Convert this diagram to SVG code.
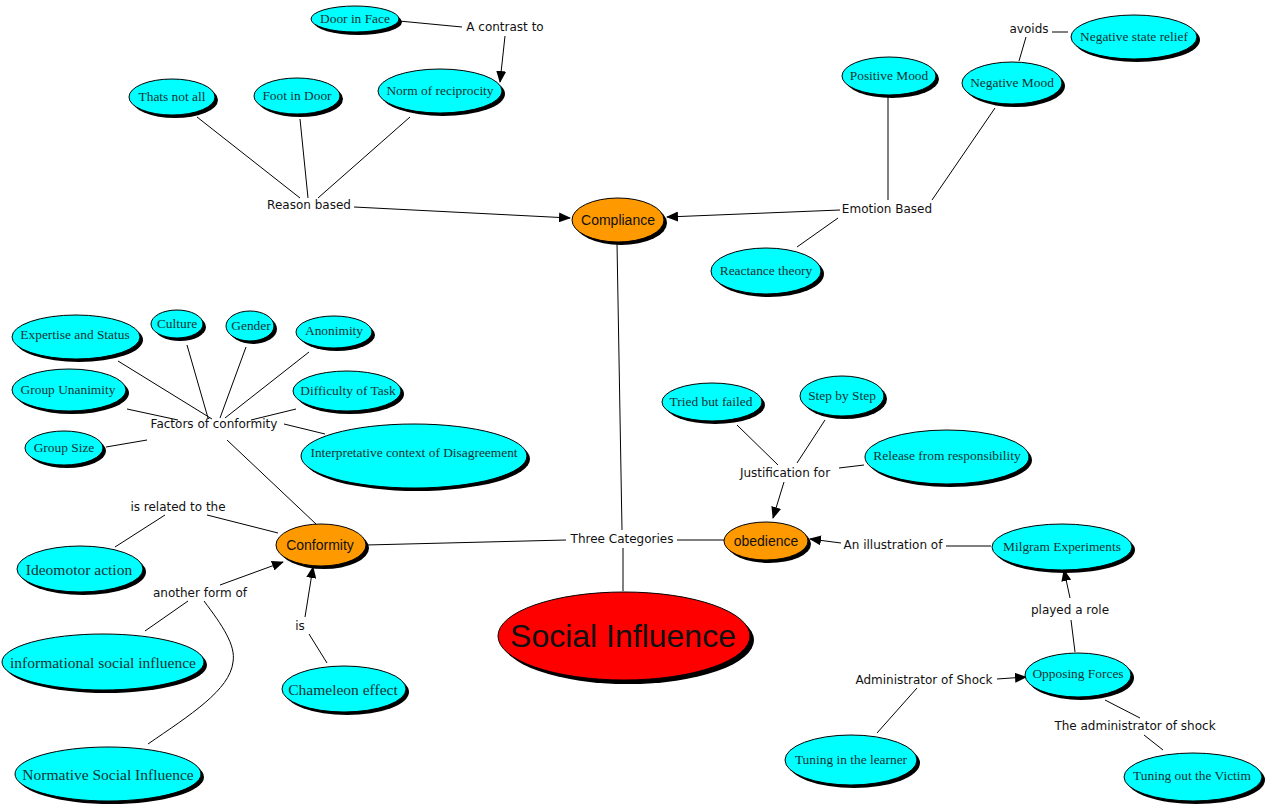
<svg xmlns="http://www.w3.org/2000/svg" width="1265" height="810" viewBox="0 0 1265 810">
<style>
.sh{fill:#000}
.c{fill:#00FFFF;stroke:#000;stroke-width:1}
.o{fill:#FF9900;stroke:#000;stroke-width:1}
.r{fill:#FF0000;stroke:#000;stroke-width:1}
.nt{font-family:"Liberation Serif","Times New Roman",serif;font-size:13.4px;fill:#113333;text-anchor:middle}
.nb{font-family:"Liberation Serif","Times New Roman",serif;font-size:15.5px;fill:#113333;text-anchor:middle}
.ot{font-family:"Liberation Sans",Arial,sans-serif;font-size:14px;fill:#111;text-anchor:middle}
.lb{font-family:"DejaVu Sans",Verdana,sans-serif;font-size:12px;fill:#111;text-anchor:middle}
.ln{stroke:#000;stroke-width:1;fill:none}
.ar{stroke:#000;stroke-width:1;fill:none;marker-end:url(#ah)}
</style>
<defs>
<marker id="ah" markerUnits="userSpaceOnUse" markerWidth="12" markerHeight="10" refX="11" refY="5" orient="auto">
<path d="M0,0 L12,5 L0,10 Z" fill="#000"/>
</marker>
</defs>
<rect width="1265" height="810" fill="#fff"/>
<g id="connectors">
<line class="ln" x1="399" y1="21" x2="462" y2="27"/>
<line class="ar" x1="505" y1="36" x2="500" y2="82"/>
<line class="ln" x1="197" y1="117" x2="300" y2="198"/>
<line class="ln" x1="300" y1="119" x2="308" y2="198"/>
<line class="ln" x1="410" y1="117" x2="318" y2="198"/>
<line class="ar" x1="354" y1="207" x2="570" y2="218"/>
<line class="ar" x1="840" y1="210" x2="667" y2="217"/>
<line class="ln" x1="888" y1="96" x2="888" y2="200"/>
<line class="ln" x1="995" y1="108" x2="932" y2="200"/>
<line class="ln" x1="838" y1="218" x2="797" y2="247"/>
<line class="ln" x1="1052" y1="32" x2="1068" y2="32"/>
<line class="ln" x1="1019" y1="61" x2="1026" y2="37"/>
<line class="ln" x1="617" y1="243" x2="622" y2="530"/>
<line class="ln" x1="623" y1="548" x2="623" y2="591"/>
<line class="ln" x1="366" y1="545" x2="566" y2="540"/>
<line class="ln" x1="677" y1="540" x2="724" y2="540"/>
<line class="ln" x1="118" y1="361" x2="212" y2="419"/>
<line class="ln" x1="187" y1="345" x2="208" y2="418"/>
<line class="ln" x1="246" y1="347" x2="220" y2="418"/>
<line class="ln" x1="309" y1="352" x2="225" y2="418"/>
<line class="ln" x1="127" y1="409" x2="178" y2="420"/>
<line class="ln" x1="296" y1="409" x2="251" y2="420"/>
<line class="ln" x1="106" y1="447" x2="147" y2="440"/>
<line class="ln" x1="325" y1="434" x2="284" y2="424"/>
<line class="ln" x1="227" y1="440" x2="316" y2="524"/>
<line class="ln" x1="165" y1="515" x2="115" y2="547"/>
<line class="ln" x1="207" y1="515" x2="278" y2="533"/>
<line class="ar" x1="220" y1="585" x2="283" y2="562"/>
<line class="ln" x1="188" y1="601" x2="145" y2="631"/>
<path class="ln" d="M204,601 C222,625 236,645 233,662 C230,690 190,715 148,744"/>
<line class="ln" x1="327" y1="663" x2="309" y2="634"/>
<line class="ar" x1="305" y1="617" x2="313" y2="567"/>
<line class="ln" x1="737" y1="425" x2="778" y2="465"/>
<line class="ln" x1="825" y1="420" x2="797" y2="463"/>
<line class="ln" x1="864" y1="465" x2="839" y2="468"/>
<line class="ar" x1="784" y1="482" x2="773" y2="518"/>
<line class="ar" x1="841" y1="543" x2="810" y2="539"/>
<line class="ln" x1="946" y1="546" x2="991" y2="546"/>
<line class="ar" x1="1070" y1="598" x2="1064" y2="570"/>
<line class="ln" x1="1071" y1="620" x2="1075" y2="652"/>
<line class="ar" x1="997" y1="679" x2="1026" y2="677"/>
<line class="ln" x1="917" y1="688" x2="877" y2="733"/>
<line class="ln" x1="1105" y1="700" x2="1140" y2="718"/>
<line class="ln" x1="1144" y1="735" x2="1163" y2="750"/>
</g>
<g id="labels">
<text class="lb" x="505" y="31">A contrast to</text>
<text class="lb" x="309" y="209">Reason based</text>
<text class="lb" x="887" y="213">Emotion Based</text>
<text class="lb" x="1029" y="33">avoids</text>
<text class="lb" x="214" y="428">Factors of conformity</text>
<text class="lb" x="178" y="511">is related to the</text>
<text class="lb" x="200" y="597">another form of</text>
<text class="lb" x="300" y="630">is</text>
<text class="lb" x="622" y="543">Three Categories</text>
<text class="lb" x="785" y="477">Justification for</text>
<text class="lb" x="893" y="549">An illustration of</text>
<text class="lb" x="1070" y="614">played a role</text>
<text class="lb" x="924" y="684">Administrator of Shock</text>
<text class="lb" x="1135" y="730">The administrator of shock</text>
</g>
<g id="social-influence"><ellipse class="sh" cx="628" cy="640" rx="126" ry="44"/><ellipse class="r" cx="624" cy="636" rx="126" ry="44"/><text x="623" y="647" font-family="Liberation Sans,Arial,sans-serif" font-size="32" fill="#111" text-anchor="middle">Social Influence</text></g>
<g id="compliance"><ellipse class="sh" cx="621" cy="223" rx="46" ry="22"/><ellipse class="o" cx="618" cy="220" rx="46" ry="22"/><text class="ot" x="618" y="225">Compliance</text></g>
<g id="conformity"><ellipse class="sh" cx="324" cy="548" rx="45" ry="21"/><ellipse class="o" cx="321" cy="545" rx="45" ry="21"/><text class="ot" x="320" y="550">Conformity</text></g>
<g id="obedience"><ellipse class="sh" cx="769" cy="544" rx="42" ry="19"/><ellipse class="o" cx="766" cy="541" rx="42" ry="19"/><text class="ot" x="766" y="546">obedience</text></g>
<g id="door-in-face"><ellipse class="sh" cx="358" cy="22" rx="44" ry="13"/><ellipse class="c" cx="355" cy="19" rx="44" ry="13"/><text class="nt" x="355" y="23">Door in Face</text></g>
<g id="norm-of-reciprocity"><ellipse class="sh" cx="443" cy="94" rx="62" ry="22"/><ellipse class="c" cx="440" cy="91" rx="62" ry="22"/><text class="nt" x="440" y="95">Norm of reciprocity</text></g>
<g id="thats-not-all"><ellipse class="sh" cx="175" cy="100" rx="43" ry="18"/><ellipse class="c" cx="172" cy="97" rx="43" ry="18"/><text class="nt" x="172" y="101">Thats not all</text></g>
<g id="foot-in-door"><ellipse class="sh" cx="300" cy="99" rx="43" ry="18"/><ellipse class="c" cx="297" cy="96" rx="43" ry="18"/><text class="nt" x="297" y="100">Foot in Door</text></g>
<g id="positive-mood"><ellipse class="sh" cx="892" cy="79" rx="47" ry="19"/><ellipse class="c" cx="889" cy="76" rx="47" ry="19"/><text class="nt" x="889" y="80">Positive Mood</text></g>
<g id="negative-mood"><ellipse class="sh" cx="1015" cy="86" rx="50" ry="21"/><ellipse class="c" cx="1012" cy="83" rx="50" ry="21"/><text class="nt" x="1012" y="87">Negative Mood</text></g>
<g id="negative-state-relief"><ellipse class="sh" cx="1137" cy="40" rx="63" ry="22"/><ellipse class="c" cx="1134" cy="37" rx="63" ry="22"/><text class="nt" x="1134" y="41">Negative state relief</text></g>
<g id="reactance-theory"><ellipse class="sh" cx="769" cy="274" rx="55" ry="23"/><ellipse class="c" cx="766" cy="271" rx="55" ry="23"/><text class="nt" x="766" y="275">Reactance theory</text></g>
<g id="expertise-and-status"><ellipse class="sh" cx="79" cy="340" rx="64" ry="22"/><ellipse class="c" cx="76" cy="337" rx="64" ry="22"/><text class="nt" x="75" y="339">Expertise and Status</text></g>
<g id="culture"><ellipse class="sh" cx="180" cy="327" rx="26" ry="14"/><ellipse class="c" cx="177" cy="324" rx="26" ry="14"/><text class="nt" x="177" y="328">Culture</text></g>
<g id="gender"><ellipse class="sh" cx="253" cy="329" rx="24" ry="15"/><ellipse class="c" cx="250" cy="326" rx="24" ry="15"/><text class="nt" x="251" y="330">Gender</text></g>
<g id="anonimity"><ellipse class="sh" cx="337" cy="335" rx="38" ry="16"/><ellipse class="c" cx="334" cy="332" rx="38" ry="16"/><text class="nt" x="334" y="335">Anonimity</text></g>
<g id="group-unanimity"><ellipse class="sh" cx="72" cy="393" rx="57" ry="21"/><ellipse class="c" cx="69" cy="390" rx="57" ry="21"/><text class="nt" x="68" y="394">Group Unanimity</text></g>
<g id="difficulty-of-task"><ellipse class="sh" cx="350" cy="394" rx="54" ry="20"/><ellipse class="c" cx="347" cy="391" rx="54" ry="20"/><text class="nt" x="348" y="395">Difficulty of Task</text></g>
<g id="group-size"><ellipse class="sh" cx="67" cy="451" rx="39" ry="17"/><ellipse class="c" cx="64" cy="448" rx="39" ry="17"/><text class="nt" x="64" y="452">Group Size</text></g>
<g id="interpretative-context"><ellipse class="sh" cx="417" cy="459" rx="113" ry="32"/><ellipse class="c" cx="414" cy="456" rx="113" ry="32"/><text class="nt" x="414" y="457">Interpretative context of Disagreement</text></g>
<g id="ideomotor-action"><ellipse class="sh" cx="83" cy="572" rx="63" ry="23"/><ellipse class="c" cx="80" cy="569" rx="63" ry="23"/><text class="nb" x="79" y="575">Ideomotor action</text></g>
<g id="informational-social-influence"><ellipse class="sh" cx="106" cy="665" rx="101" ry="28"/><ellipse class="c" cx="103" cy="662" rx="101" ry="28"/><text class="nb" x="103" y="668">informational social influence</text></g>
<g id="normative-social-influence"><ellipse class="sh" cx="111" cy="777" rx="93" ry="27"/><ellipse class="c" cx="108" cy="774" rx="93" ry="27"/><text class="nb" x="108" y="780">Normative Social Influence</text></g>
<g id="chameleon-effect"><ellipse class="sh" cx="347" cy="692" rx="62" ry="23"/><ellipse class="c" cx="344" cy="689" rx="62" ry="23"/><text class="nb" x="343" y="695">Chameleon effect</text></g>
<g id="tried-but-failed"><ellipse class="sh" cx="715" cy="405" rx="50" ry="19"/><ellipse class="c" cx="712" cy="402" rx="50" ry="19"/><text class="nt" x="711" y="406">Tried but failed</text></g>
<g id="step-by-step"><ellipse class="sh" cx="845" cy="399" rx="42" ry="20"/><ellipse class="c" cx="842" cy="396" rx="42" ry="20"/><text class="nt" x="842" y="400">Step by Step</text></g>
<g id="release-from-responsibility"><ellipse class="sh" cx="950" cy="460" rx="82" ry="27"/><ellipse class="c" cx="947" cy="457" rx="82" ry="27"/><text class="nt" x="947" y="460">Release from responsibility</text></g>
<g id="milgram-experiments"><ellipse class="sh" cx="1065" cy="550" rx="70" ry="23"/><ellipse class="c" cx="1062" cy="547" rx="70" ry="23"/><text class="nt" x="1062" y="551">Milgram Experiments</text></g>
<g id="opposing-forces"><ellipse class="sh" cx="1081" cy="678" rx="53" ry="22"/><ellipse class="c" cx="1078" cy="675" rx="53" ry="22"/><text class="nt" x="1078" y="678">Opposing Forces</text></g>
<g id="tuning-in-the-learner"><ellipse class="sh" cx="854" cy="763" rx="66" ry="25"/><ellipse class="c" cx="851" cy="760" rx="66" ry="25"/><text class="nt" x="851" y="764">Tuning in the learner</text></g>
<g id="tuning-out-the-victim"><ellipse class="sh" cx="1196" cy="780" rx="69" ry="24"/><ellipse class="c" cx="1193" cy="777" rx="69" ry="24"/><text class="nt" x="1192" y="780">Tuning out the Victim</text></g>
</svg>
